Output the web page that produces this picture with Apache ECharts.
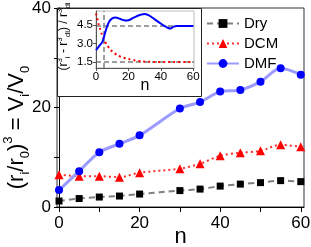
<!DOCTYPE html>
<html><head><meta charset="utf-8">
<script src="https://cdn.jsdelivr.net/npm/echarts@6/dist/echarts.min.js"></script>
<style>html,body{margin:0;padding:0;background:#fff;overflow:hidden}#c{width:311px;height:247px}</style>
</head><body><div id="c"></div>
<script>
const nValues = [0, 5, 10, 15, 20, 30, 35, 40, 45, 50, 55, 60];
const dryValues = [1.2, 1.7, 2.0, 2.2, 2.6, 3.3, 3.6, 4.2, 4.6, 4.9, 5.3, 5.1];
const dcmValues = [6.5, 6.2, 6.2, 6.0, 6.9, 7.7, 8.7, 10.3, 10.9, 11.3, 12.5, 12.1];
const dmfValues = [3.4, 7.2, 11.0, 12.7, 14.4, 19.8, 21.1, 23.2, 23.5, 25.2, 27.9, 26.6];
const mainXLabels = [0, 20, 40, 60];
const mainXTicks = [0, 10, 20, 30, 40, 50, 60];
const mainYLabels = [0, 20, 40];
const mainYTicks = [0, 10, 20, 30, 40];

const insetBlueN = [0, 2, 4, 6, 8, 10, 12, 14, 16, 18, 20, 22, 24, 26, 28, 30, 32, 34, 36, 38, 40, 42, 44, 46, 48, 50, 55, 60];
const insetBlueV = [2.45, 2.8, 3.15, 4.05, 4.75, 5.05, 5.12, 5.05, 4.95, 4.88, 4.9, 5.02, 5.15, 5.28, 5.37, 5.4, 5.33, 5.18, 5.0, 4.8, 4.63, 4.45, 4.3, 4.22, 4.38, 4.42, 4.42, 4.42];
const insetRedN = [0, 1, 2, 3, 4, 5, 6, 8, 10, 12, 15, 18, 22, 26, 30, 35, 40, 50, 60];
const insetRedV = [5.45, 4.9, 4.4, 4.0, 3.6, 3.3, 3.05, 2.65, 2.35, 2.15, 1.93, 1.8, 1.68, 1.58, 1.52, 1.5, 1.48, 1.48, 1.48];
const insetXLabels = [0, 20, 40, 60];
const insetYLabels = [1.5, 3.0, 4.5];
const insetRefY = [4.45, 1.5];
const insetRefX = [5];

const font = 'Liberation Sans, Arial, sans-serif';
const pair = (xs, ys) => xs.map((x, i) => [x, ys[i]]);

const chart = echarts.init(document.getElementById('c'), null, {renderer: 'canvas'});
chart.setOption({
  animation: false,
  backgroundColor: '#fff',
  textStyle: {fontFamily: font},
  grid: [
    {left: 57, right: 7, top: 8, bottom: 40, show: true, borderColor: '#333', borderWidth: 1, z: 0,
     containLabel: false, outerBoundsMode: 'none'},
    {left: 96, right: 117, top: 11, bottom: 179, show: true, borderColor: '#bbb', borderWidth: 1, z: 5,
     containLabel: false, outerBoundsMode: 'none'}
  ],
  graphic: [
    {type: 'rect', shape: {x: 57.5, y: 8.5, width: 144, height: 88}, style: {fill: '#fff', stroke: '#222', lineWidth: 1}, z: 3}
  ],
  legend: {
    left: 201, top: 11, orient: 'vertical', itemWidth: 32, itemHeight: 11, itemGap: 5,
    textStyle: {fontSize: 15, color: '#000', fontFamily: font},
    data: ['Dry', 'DCM', 'DMF']
  },
  xAxis: [
    {type: 'value', gridIndex: 0, min: -0.5, max: 60.8,
     name: 'n', nameLocation: 'middle', nameGap: 19, nameMoveOverlap: false,
     nameTextStyle: {fontSize: 22, color: '#000'},
     axisLine: {show: true, lineStyle: {color: '#000', width: 1}},
     axisTick: {show: true, length: 5, customValues: mainXTicks, lineStyle: {color: '#000'}},
     axisLabel: {customValues: mainXLabels, fontSize: 17, color: '#000', margin: 8},
     splitLine: {show: false}},
    {type: 'value', gridIndex: 1, min: 0, max: 60.5,
     name: 'n', nameLocation: 'middle', nameGap: 10, nameMoveOverlap: false,
     nameTextStyle: {fontSize: 16, color: '#000'},
     axisLine: {show: true, lineStyle: {color: '#555', width: 1}},
     axisTick: {show: true, length: 3, customValues: insetXLabels, lineStyle: {color: '#555'}},
     axisLabel: {customValues: insetXLabels, fontSize: 11.5, color: '#000', margin: 3},
     splitLine: {show: false}, z: 6}
  ],
  yAxis: [
    {type: 'value', gridIndex: 0, min: 0, max: 40,
     name: '{n|(r}{s|i}{n|/r}{s|0}{n|)}{p|3}{n| = V}{s|i}{n|/V}{s|0}',
     nameLocation: 'middle', nameGap: 25, nameMoveOverlap: false,
     nameTextStyle: {padding: [0, 40, 0, 0], rich: {
       n: {fontSize: 22, lineHeight: 30, verticalAlign: 'middle', color: '#000', fontFamily: font},
       s: {fontSize: 13, lineHeight: 13, verticalAlign: 'bottom', color: '#000', fontFamily: font},
       p: {fontSize: 13, lineHeight: 13, verticalAlign: 'top', color: '#000', fontFamily: font}
     }},
     axisLine: {show: true, lineStyle: {color: '#000', width: 1}},
     axisTick: {show: true, length: 5, customValues: mainYTicks, lineStyle: {color: '#000'}},
     axisLabel: {customValues: mainYLabels, fontSize: 17, color: '#000', margin: 6},
     splitLine: {show: false}},
    {type: 'value', gridIndex: 1, min: 1, max: 5.65,
     name: '{n|(r}{p|3}{s|i}{n| - r}{p|3}{s|di}{n|) / r}{p|3}{s|di}',
     nameLocation: 'middle', nameGap: 24, nameMoveOverlap: false,
     nameTextStyle: {padding: [0, 0, 0, 6], rich: {
       n: {fontSize: 12, lineHeight: 16, verticalAlign: 'middle', color: '#000', fontFamily: font},
       s: {fontSize: 8, lineHeight: 8, verticalAlign: 'bottom', color: '#000', fontFamily: font},
       p: {fontSize: 8, lineHeight: 8, verticalAlign: 'top', color: '#000', fontFamily: font}
     }},
     axisLine: {show: true, lineStyle: {color: '#555', width: 1}},
     axisTick: {show: true, length: 3, customValues: insetYLabels, lineStyle: {color: '#555'}},
     axisLabel: {customValues: insetYLabels, fontSize: 11.5, color: '#000', margin: 3,
       formatter: v => v.toFixed(1)},
     splitLine: {show: false}, z: 6}
  ],
  series: [
    {name: 'Dry', type: 'line', xAxisIndex: 0, yAxisIndex: 0, data: pair(nValues, dryValues),
     smooth: 0.3, symbol: 'rect', symbolSize: 7,
     lineStyle: {color: '#7f7f7f', width: 2, type: [6, 4]}, itemStyle: {color: '#000'}, z: 2},
    {name: 'DCM', type: 'line', xAxisIndex: 0, yAxisIndex: 0, data: pair(nValues, dcmValues),
     smooth: 0.3, symbol: 'triangle', symbolSize: 9,
     lineStyle: {color: '#ff3030', width: 2, type: [2, 3]}, itemStyle: {color: '#ff0000'}, z: 2},
    {name: 'DMF', type: 'line', xAxisIndex: 0, yAxisIndex: 0, data: pair(nValues, dmfValues),
     smooth: 0.3, symbol: 'circle', symbolSize: 8,
     lineStyle: {color: '#9a9aff', width: 3}, itemStyle: {color: '#0000ff'}, z: 2},
    {name: 'insetRed', type: 'line', xAxisIndex: 1, yAxisIndex: 1, data: pair(insetRedN, insetRedV),
     smooth: 0.4, symbol: 'none', lineStyle: {color: '#ff0000', width: 2, type: [2, 3]}, z: 7,
     markLine: {silent: true, symbol: 'none', label: {show: false},
       lineStyle: {color: '#808080', width: 1.5, type: [5, 3]},
       data: insetRefY.map(v => ({yAxis: v})).concat(insetRefX.map(v => ({xAxis: v})))}},
    {name: 'insetBlue', type: 'line', xAxisIndex: 1, yAxisIndex: 1, data: pair(insetBlueN, insetBlueV),
     smooth: 0.4, symbol: 'none', lineStyle: {color: '#0000ff', width: 2}, z: 8}
  ]
});
</script></body></html>
